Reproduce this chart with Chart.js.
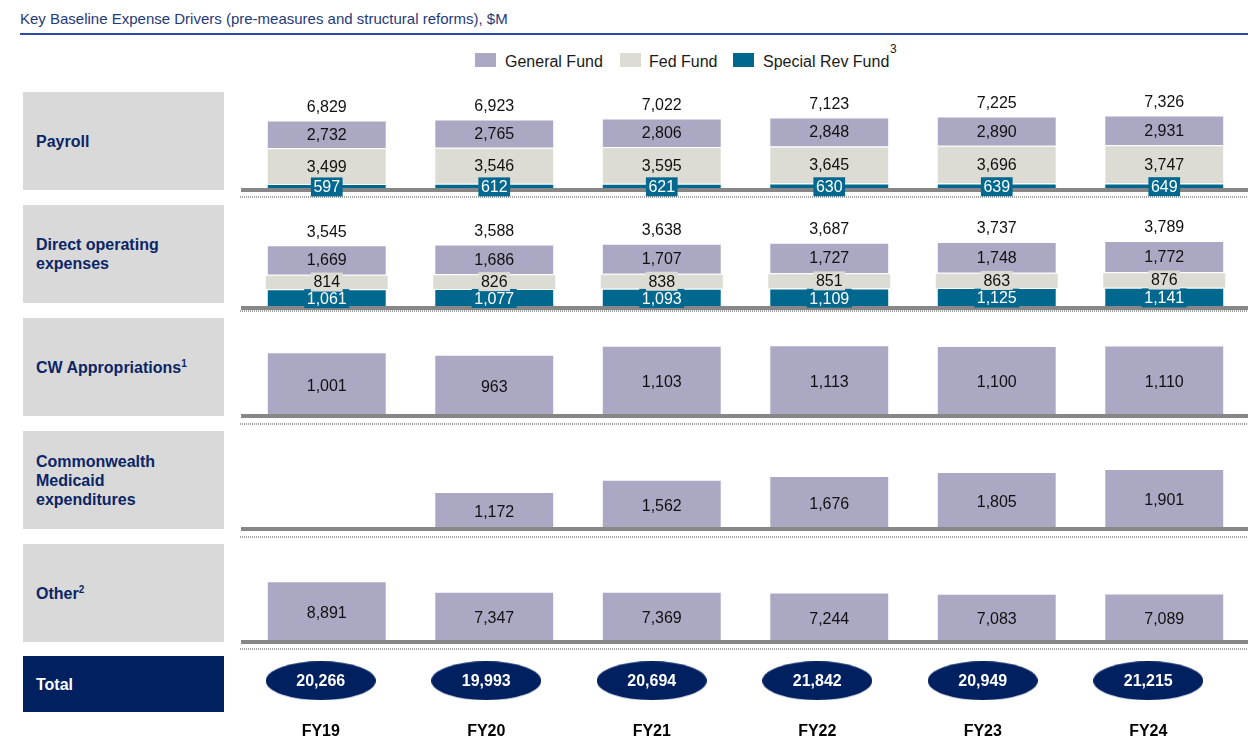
<!DOCTYPE html>
<html>
<head>
<meta charset="utf-8">
<title>Key Baseline Expense Drivers</title>
<script src="https://cdn.jsdelivr.net/npm/chart.js@4"></script>
<style>
  body { margin: 0; width: 1248px; height: 744px; position: relative; background: #fff; overflow: hidden;
         font-family: "Liberation Sans", Arial, sans-serif; }
  #title { position: absolute; left: 20px; top: 10px; font-size: 15px; line-height: 18px; color: #1f3a7a; }
  #rule { position: absolute; left: 20px; top: 33px; width: 1228px; height: 2px; background: #2f4ba0; }
  .swatch { position: absolute; top: 53px; width: 21px; height: 14px; }
  .legend-text { position: absolute; top: 53px; font-size: 16px; line-height: 18px; color: #1a1a1a; white-space: nowrap; }
  .rowlabel { position: absolute; left: 23px; width: 188px; padding-left: 13px; height: 98px; background: #d9d9d9;
              display: flex; align-items: center; font-weight: bold; font-size: 16px; line-height: 19px; color: #0b2566; }
  .rowlabel sup { font-size: 10px; line-height: 0; vertical-align: 6px; }
  #totalLabel { background: #002060; color: #fff; top: 656px; height: 56px; }
  canvas { position: absolute; }
</style>
</head>
<body>
<div id="title">Key Baseline Expense Drivers (pre-measures and structural reforms), $M</div>
<div id="rule"></div>

<div class="swatch" style="left:475px;background:#aba8c3"></div>
<div class="legend-text" style="left:505px">General Fund</div>
<div class="swatch" style="left:620px;background:#dcdcd4"></div>
<div class="legend-text" style="left:649px">Fed Fund</div>
<div class="swatch" style="left:733px;background:#00678f"></div>
<div class="legend-text" style="left:763px">Special Rev Fund</div>
<div class="legend-text" style="left:890px;top:40px;font-size:12px">3</div>

<div class="rowlabel" style="top:92px">Payroll</div>
<div class="rowlabel" style="top:205px">Direct operating<br>expenses</div>
<div class="rowlabel" style="top:318px"><span>CW Appropriations<sup>1</sup></span></div>
<div class="rowlabel" style="top:431px">Commonwealth<br>Medicaid<br>expenditures</div>
<div class="rowlabel" style="top:544px"><span>Other<sup>2</sup></span></div>
<div class="rowlabel" id="totalLabel">Total</div>

<canvas id="payroll" width="1012" height="112" style="left:236px;top:92px"></canvas>
<canvas id="direct" width="1012" height="112" style="left:236px;top:210px"></canvas>
<canvas id="cw" width="1012" height="112" style="left:236px;top:318px"></canvas>
<canvas id="medicaid" width="1012" height="112" style="left:236px;top:431px"></canvas>
<canvas id="other" width="1012" height="112" style="left:236px;top:544px"></canvas>
<canvas id="totals" width="993" height="103" style="left:238px;top:656px"></canvas>

<script>
// fiscal years along the bottom
const years = ['FY19', 'FY20', 'FY21', 'FY22', 'FY23', 'FY24'];

// Payroll, $M
const payrollGeneral = [2732, 2765, 2806, 2848, 2890, 2931];
const payrollFed     = [3499, 3546, 3595, 3645, 3696, 3747];
const payrollSpecial = [597, 612, 621, 630, 639, 649];
const payrollTotal   = [6829, 6923, 7022, 7123, 7225, 7326];

// Direct operating expenses, $M
const directGeneral = [1669, 1686, 1707, 1727, 1748, 1772];
const directFed     = [814, 826, 838, 851, 863, 876];
const directSpecial = [1061, 1077, 1093, 1109, 1125, 1141];
const directTotal   = [3545, 3588, 3638, 3687, 3737, 3789];

// single-fund rows, $M
const cwAppropriations = [1001, 963, 1103, 1113, 1100, 1110];
const medicaid         = [null, 1172, 1562, 1676, 1805, 1901];
const other            = [8891, 7347, 7369, 7244, 7083, 7089];

// grand total, $M
const grandTotal = [20266, 19993, 20694, 21842, 20949, 21215];

const GENERAL = '#aba8c3';
const FED = '#dcdcd4';
const SPECIAL = '#00678f';
const FONT = '"Liberation Sans", Arial, sans-serif';

Chart.defaults.font.family = FONT;

const fmt = v => v.toLocaleString('en-US');

// value labels inside the bars, totals on top, dotted rule under each row
const valueLabels = {
    id: 'valueLabels',
    afterDraw(chart, args, opts) {
        const ctx = chart.ctx;
        const area = chart.chartArea;
        ctx.save();

        ctx.strokeStyle = '#a3a3a3';
        ctx.lineWidth = 2;
        ctx.setLineDash([1, 1]);
        ctx.beginPath();
        ctx.moveTo(area.left - 3, area.bottom + opts.dotGap);
        ctx.lineTo(area.right, area.bottom + opts.dotGap);
        ctx.stroke();
        ctx.setLineDash([]);

        ctx.font = '16px ' + FONT;
        ctx.textAlign = 'center';
        ctx.textBaseline = 'middle';

        chart.data.datasets.forEach((ds, di) => {
            const meta = chart.getDatasetMeta(di);
            meta.data.forEach((bar, i) => {
                const v = ds.data[i];
                if (v == null) return;
                const y = (bar.y + bar.base) / 2 + (opts.shift || 0);
                const text = fmt(v);
                if (ds.labelBox) {
                    const w = ctx.measureText(text).width + 5;
                    ctx.fillStyle = ds.backgroundColor;
                    ctx.fillRect(bar.x - w / 2, y - 9.5, w, 19);
                }
                ctx.fillStyle = ds.labelColor || '#111';
                ctx.fillText(text, bar.x, y + 1);
            });
        });

        if (opts.totals) {
            const top = chart.getDatasetMeta(chart.data.datasets.length - 1);
            ctx.fillStyle = '#111';
            top.data.forEach((bar, i) => {
                ctx.fillText(fmt(opts.totals[i]), bar.x, bar.y - 13);
            });
        }
        ctx.restore();
    }
};

function rowChart(id, datasets, max, labelOpts) {
    return new Chart(document.getElementById(id), {
        type: 'bar',
        data: { labels: years, datasets: datasets },
        options: {
            responsive: false,
            animation: false,
            layout: { padding: { left: 7, right: 0, top: 0, bottom: 14 } },
            datasets: {
                bar: { barPercentage: 1, categoryPercentage: 0.716, borderColor: '#fff', borderWidth: 1 }
            },
            scales: {
                x: {
                    stacked: true,
                    ticks: { display: false },
                    grid: { display: false, drawTicks: false },
                    border: { display: true, color: '#878787', width: 4, z: 1 }
                },
                y: { stacked: true, display: false, min: 0, max: max }
            },
            plugins: {
                legend: { display: false },
                tooltip: { enabled: false },
                valueLabels: labelOpts
            }
        },
        plugins: [valueLabels]
    });
}

rowChart('payroll', [
    { label: 'Special Rev Fund', data: payrollSpecial, backgroundColor: SPECIAL, labelColor: '#fff', labelBox: true },
    { label: 'Fed Fund', data: payrollFed, backgroundColor: FED },
    { label: 'General Fund', data: payrollGeneral, backgroundColor: GENERAL }
], 9627, { dotGap: 7, totals: payrollTotal });

rowChart('direct', [
    { label: 'Special Rev Fund', data: directSpecial, backgroundColor: SPECIAL, labelColor: '#fff', labelBox: true },
    { label: 'Fed Fund', data: directFed, backgroundColor: FED, labelBox: true, categoryPercentage: 0.74 },
    { label: 'General Fund', data: directGeneral, backgroundColor: GENERAL }
], 5540, { dotGap: 3, totals: directTotal });

rowChart('cw', [
    { label: 'General Fund', data: cwAppropriations, backgroundColor: GENERAL }
], 1541, { dotGap: 8, shift: 1 });

rowChart('medicaid', [
    { label: 'General Fund', data: medicaid, backgroundColor: GENERAL }
], 3104, { dotGap: 8, shift: 1 });

rowChart('other', [
    { label: 'General Fund', data: other, backgroundColor: GENERAL }
], 14350, { dotGap: 7, shift: 1 });

// navy ellipse used as the point style of the total row
const ellipse = document.createElement('canvas');
ellipse.width = 110;
ellipse.height = 39;
const ec = ellipse.getContext('2d');
ec.fillStyle = '#002060';
ec.beginPath();
ec.ellipse(55, 19.5, 55, 19.5, 0, 0, Math.PI * 2);
ec.fill();

const totalLabels = {
    id: 'totalLabels',
    afterDatasetsDraw(chart) {
        const ctx = chart.ctx;
        ctx.save();
        ctx.font = 'bold 16px ' + FONT;
        ctx.fillStyle = '#fff';
        ctx.textAlign = 'center';
        ctx.textBaseline = 'middle';
        chart.getDatasetMeta(0).data.forEach((pt, i) => {
            ctx.fillText(fmt(grandTotal[i]), pt.x, pt.y + 1);
        });
        ctx.restore();
    }
};

new Chart(document.getElementById('totals'), {
    type: 'line',
    data: {
        labels: years,
        datasets: [{
            label: 'Total',
            data: years.map(yr => ({ x: yr, y: 'Total' })),
            showLine: false,
            pointStyle: ellipse,
            pointRadius: 5
        }]
    },
    options: {
        responsive: false,
        animation: false,
        layout: { autoPadding: false, padding: { left: 0, right: 0, top: 0, bottom: 4 } },
        scales: {
            x: {
                type: 'category',
                offset: true,
                ticks: { color: '#000', padding: 16, font: { size: 16, weight: 'bold' } },
                grid: { display: false, drawTicks: false },
                border: { display: false }
            },
            y: { type: 'category', labels: ['Total'], offset: true, display: false }
        },
        plugins: { legend: { display: false }, tooltip: { enabled: false } }
    },
    plugins: [totalLabels]
});
</script>
</body>
</html>
